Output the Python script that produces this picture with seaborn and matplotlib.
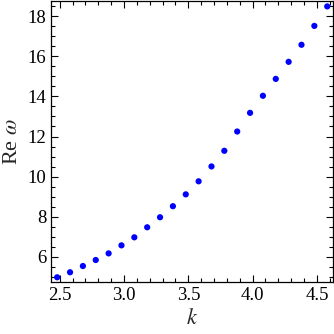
import matplotlib
matplotlib.use("Agg")
import matplotlib.pyplot as plt
import seaborn as sns
import pandas as pd
from matplotlib.ticker import MultipleLocator

k_vals = [2.48, 2.58, 2.68, 2.78, 2.88, 2.98, 3.08, 3.18, 3.28, 3.38, 3.48,
          3.58, 3.68, 3.78, 3.88, 3.98, 4.08, 4.18, 4.28, 4.38, 4.48, 4.58]
re_omega = [4.99, 5.24, 5.55, 5.85, 6.18, 6.58, 6.98, 7.48, 7.98, 8.53, 9.12,
            9.77, 10.51, 11.29, 12.25, 13.18, 14.03, 14.87, 15.72, 16.57, 17.51, 18.48]

df = pd.DataFrame({"k": k_vals, "re": re_omega})

sns.set_theme(style="ticks")
plt.rcParams['font.family'] = ['Liberation Serif', 'DejaVu Serif']
plt.rcParams['mathtext.fontset'] = 'stix'

fig = plt.figure(figsize=(3.34, 3.34), dpi=100)
ax = fig.add_axes([0.1527, 0.1557, 0.997 - 0.1527, 0.997 - 0.1557])
sns.scatterplot(data=df, x="k", y="re", ax=ax, color=(0, 0, 1), s=20,
                edgecolor="none", linewidth=0)

ax.set_xlim(2.432, 4.625)
ax.set_ylim(4.755, 18.75)
ax.xaxis.set_major_locator(MultipleLocator(0.5))
ax.xaxis.set_minor_locator(MultipleLocator(0.1))
ax.yaxis.set_major_locator(MultipleLocator(2))
ax.yaxis.set_minor_locator(MultipleLocator(0.5))
ax.xaxis.set_major_formatter(matplotlib.ticker.FormatStrFormatter('%.1f'))
ax.tick_params(which='both', direction='in', top=True, right=True,
               labelsize=13.5, colors='black', width=0.8)
ax.tick_params(which='major', length=5)
ax.tick_params(which='minor', length=3)
for s in ax.spines.values():
    s.set_visible(True)
    s.set_color('black')
    s.set_linewidth(0.9)

ax.set_xlabel(r"$k$", fontsize=16, labelpad=4)
ax.set_ylabel(r"Re $\omega$", fontsize=16, labelpad=4)

fig.savefig("out.png", dpi=100)
